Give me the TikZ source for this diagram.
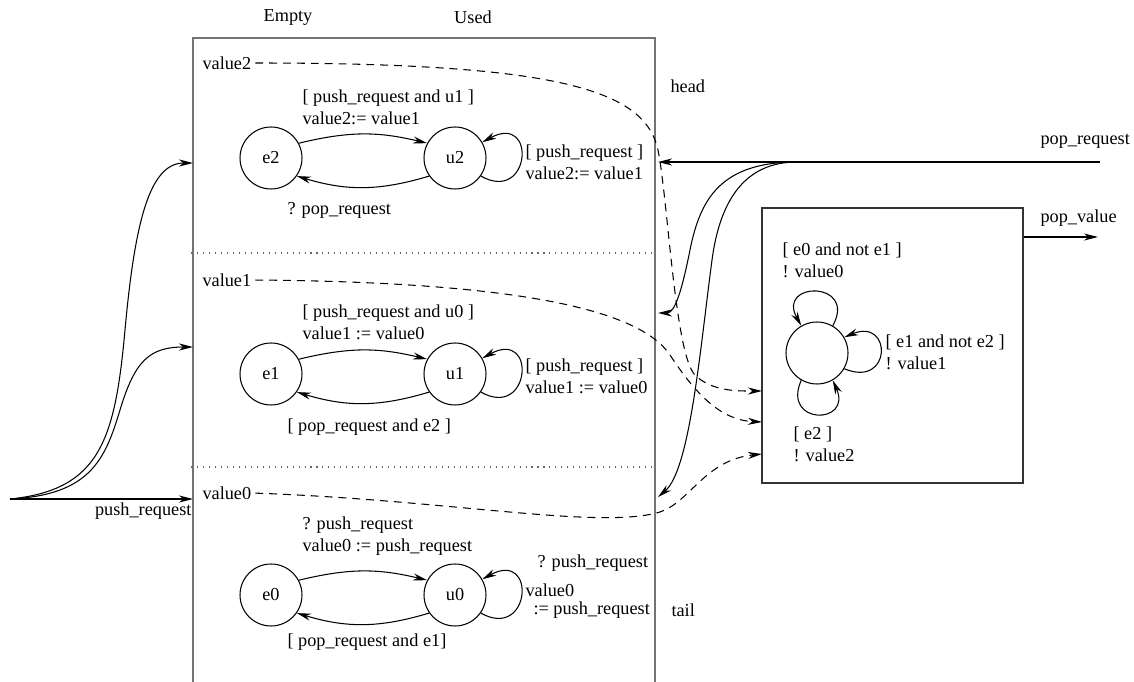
\documentclass[tikz,border=0pt]{standalone}
\usepackage{fontspec}
\setmainfont{Liberation Serif}
\usetikzlibrary{arrows.meta, calc}
\tikzset{
  state/.style={circle, draw, line width=0.6pt, minimum size=1.24cm,
                inner sep=0pt},
  lbl/.style={anchor=west, align=left, inner sep=0pt},
  arrow/.style={-{Stealth[length=8pt, width=4pt, inset=2.5pt]},
                line width=0.6pt},
  dasharrow/.style={arrow, dash pattern=on 4.5pt off 3.4pt,
                    shorten <=2pt},
  frame/.style={draw=black!55, line width=1.1pt},
  divider/.style={draw=black!60, line width=0.6pt,
                  dash pattern=on 0.6pt off 2.8pt},
  muxbox/.style={rectangle, draw=black!80, line width=0.7pt,
                 minimum width=5.22cm, minimum height=5.5cm},
}

\begin{document}
\begin{tikzpicture}[x=0.02cm, y=-0.02cm, line width=0.6pt,
                    font=\fontsize{10.4}{12.3}\selectfont]
  \useasboundingbox (0,0) rectangle (1134,682);

  % Queue frame
  \draw[frame] (193,682) -- (193,38) -- (655,38) -- (655,682);
  \draw[divider] (191,253) -- (655,253);
  \draw[divider] (191,467) -- (655,467);

  \node (empty) at (288,17) {Empty};
  \node (used) at (473,17) {Used};
  \node[lbl] (head) at (670,86) {head};
  \node[lbl] (tail) at (671,610) {tail};

  % Cells
  \node[state] (e2) at (271,158) {e2};
  \node[state] (u2) at (455,158) {u2};
  \node[state] (e1) at (271,374) {e1};
  \node[state] (u1) at (455,374) {u1};
  \node[state] (e0) at (271,595) {e0};
  \node[state] (u0) at (455,595) {u0};

  \draw[arrow] (e2.28) .. controls +(50,-12) and +(-50,-12) .. (u2.152);
  \draw[arrow] (u2.-145) .. controls +(-50,15) and +(50,15) .. (e2.-35);
  \draw[arrow] (u2.-35) .. controls +(50,28) and +(55,-30) .. (u2.30);
  \draw[arrow] (e1.28) .. controls +(50,-12) and +(-50,-12) .. (u1.152);
  \draw[arrow] (u1.-145) .. controls +(-50,15) and +(50,15) .. (e1.-35);
  \draw[arrow] (u1.-35) .. controls +(50,28) and +(55,-30) .. (u1.30);
  \draw[arrow] (e0.28) .. controls +(50,-12) and +(-50,-12) .. (u0.152);
  \draw[arrow] (u0.-145) .. controls +(-50,15) and +(50,15) .. (e0.-35);
  \draw[arrow] (u0.-35) .. controls +(50,28) and +(55,-30) .. (u0.30);

  \node[lbl] (t2) at (302,107) {[ push\_request and u1 ]\\value2:= value1};
  \node[lbl] (b2) at (287,210) {? pop\_request};
  \node[lbl] (s2) at (525,162) {[ push\_request ]\\value2:= value1};
  \node[lbl] (t1) at (302,322) {[ push\_request and u0 ]\\value1 := value0};
  \node[lbl] (b1) at (287,427) {[ pop\_request and e2 ]};
  \node[lbl] (s1) at (525,376) {[ push\_request ]\\value1 := value0};
  \node[lbl] (t0) at (302,536) {? push\_request\\value0 := push\_request};
  \node[lbl] (b0) at (287,642) {[ pop\_request and e1]};
  \node[lbl] (s0a) at (537,563) {? push\_request};
  \node[lbl] (s0b) at (525,601)
    {value0\\[-2.5pt]\hspace*{0.16cm}:= push\_request};

  \node[lbl] (v2) at (202,63) {value2};
  \node[lbl] (v1) at (202,280) {value1};
  \node[lbl] (v0) at (202,493) {value0};

  % Output selector
  \node[muxbox] (mux) at (892.5,345.5) {};
  \node[state] (sel) at (817,353) {};
  \draw[arrow] (sel.60) .. controls +(25,-45) and +(-25,-45) .. (sel.120);
  \draw[arrow] (sel.-30) .. controls +(48,20) and +(48,-20) .. (sel.30);
  \draw[arrow] (sel.-120) .. controls +(-20,45) and +(20,45) .. (sel.-60);
  \node[lbl] (g0) at (782,260) {[ e0 and not e1 ]\\! value0};
  \node[lbl] (g1) at (885,352) {[ e1 and not e2 ]\\! value1};
  \node[lbl] (g2) at (793,444) {[ e2 ]\\! value2};

  \coordinate (in2) at (762,391);
  \coordinate (in1) at (762,422);
  \coordinate (in0) at (762,454);
  \draw[dasharrow] (v2.east) .. controls (560,63) and (645,90) .. (658,150)
    .. controls (668,200) and (675,355) .. (695,375)
    .. controls (712,392) and (740,391) .. (in2);
  \draw[dasharrow] (v1.east) .. controls (520,282) and (640,310) .. (670,355)
    .. controls (695,393) and (720,420) .. (in1);
  \draw[dasharrow] (v0.east) .. controls (450,500) and (600,530) .. (660,512)
    .. controls (690,502) and (705,460) .. (in0);

  \coordinate (popout) at (1098,237);
  \draw[arrow] (mux.east |- popout) -- (popout);
  \node[lbl] (popval) at (1040,218) {pop\_value};

  % pop_request into the cells
  \coordinate (popsrc) at (1100,162);
  \coordinate (popsplit) at (797,162);
  \coordinate (popin2) at (658,162);
  \coordinate (popin1) at (658,313);
  \coordinate (popin0) at (658,497);
  \node[lbl] (poplbl) at (1040,141) {pop\_request};
  \draw[arrow] (popsrc) -- (popin2);
  \draw[arrow] (popsplit) .. controls (720,162) and (700,200) .. (690,250)
    .. controls (682,290) and (675,313) .. (popin1);
  \draw[arrow] (popsplit) .. controls (745,162) and (720,200) .. (712,260)
    .. controls (700,350) and (690,470) .. (popin0);

  % push_request into the cells
  \coordinate (pushsrc) at (10,499);
  \coordinate (pushin2) at (193,163);
  \coordinate (pushin1) at (193,347);
  \coordinate (pushin0) at (193,499);
  \node[anchor=east, inner sep=0pt] (pushlbl) at (192,511) {push\_request};
  \draw[arrow] (pushsrc) -- (pushin0);
  \draw[arrow] (pushsrc) .. controls (100,490) and (115,440) .. (125,330)
    .. controls (135,220) and (150,163) .. (pushin2);
  \draw[arrow] (pushsrc) .. controls (90,495) and (105,460) .. (120,410)
    .. controls (135,360) and (150,347) .. (pushin1);
\end{tikzpicture}
\end{document}
